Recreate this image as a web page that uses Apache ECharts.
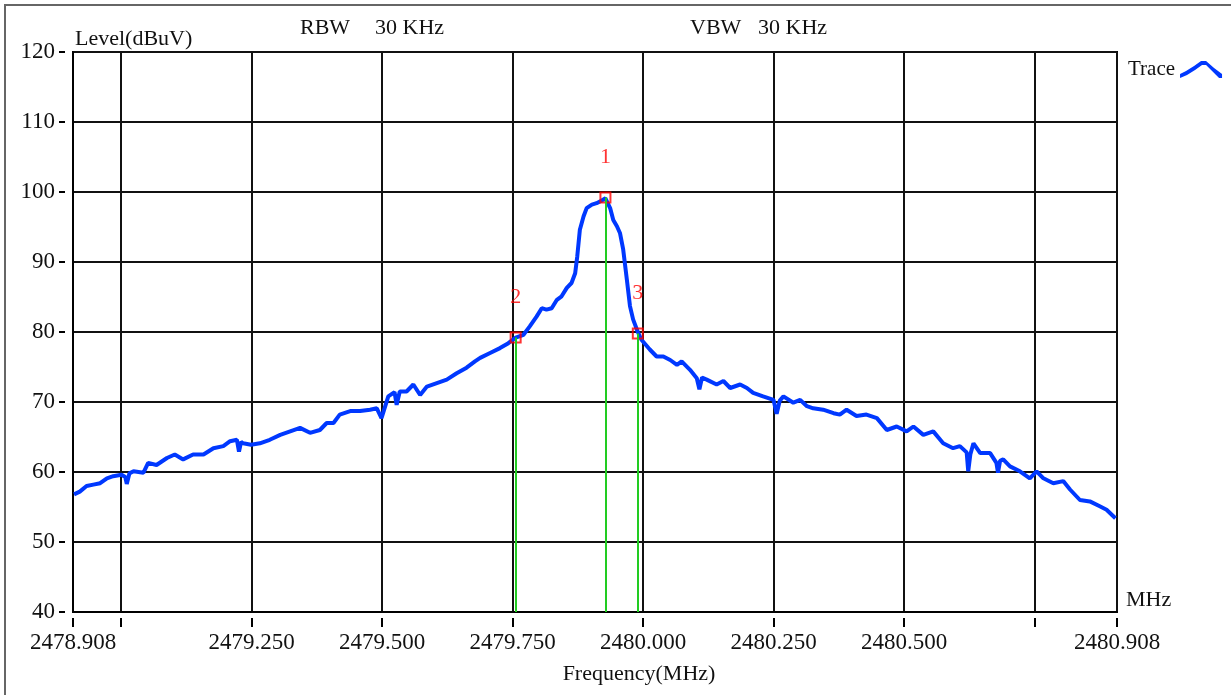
<!DOCTYPE html>
<html lang="en">
<head>
    <meta charset="UTF-8">
    <title>Trace</title>
    <script src="https://cdn.jsdelivr.net/npm/echarts@6.0.0/dist/echarts.min.js"></script>
    <style>
        html, body { margin: 0; padding: 0; background: #fff; }
        #main { width: 1231px; height: 695px; }
    </style>
</head>
<body>
    <div id="main"></div>
    <script>
        // values
        var traceFreq = [
            2478.910, 2478.921, 2478.934, 2478.947, 2478.960, 2478.973, 2478.985, 2479.001, 2479.008, 2479.011,
            2479.016, 2479.024, 2479.043, 2479.052, 2479.068, 2479.088, 2479.103, 2479.119, 2479.138, 2479.158,
            2479.177, 2479.196, 2479.209, 2479.222, 2479.226, 2479.230, 2479.234, 2479.249, 2479.266, 2479.285,
            2479.305, 2479.324, 2479.343, 2479.362, 2479.381, 2479.394, 2479.407, 2479.419, 2479.439, 2479.458,
            2479.477, 2479.490, 2479.499, 2479.512, 2479.524, 2479.528, 2479.534, 2479.547, 2479.560, 2479.573,
            2479.586, 2479.605, 2479.624, 2479.643, 2479.662, 2479.678,
            2479.688, 2479.707, 2479.726, 2479.742, 2479.756, 2479.771, 2479.783, 2479.796, 2479.806, 2479.815,
            2479.825, 2479.835, 2479.844, 2479.854, 2479.863, 2479.870, 2479.874, 2479.879, 2479.886, 2479.892,
            2479.902, 2479.911, 2479.921, 2479.928, 2479.937, 2479.943, 2479.950, 2479.956, 2479.962, 2479.969,
            2479.975, 2479.981, 2479.990,
            2479.997, 2480.013, 2480.026, 2480.039, 2480.052, 2480.065, 2480.074, 2480.090, 2480.103, 2480.108,
            2480.113, 2480.122, 2480.141, 2480.154, 2480.167, 2480.186, 2480.199, 2480.211, 2480.230, 2480.250,
            2480.256, 2480.262, 2480.269, 2480.288, 2480.301, 2480.314, 2480.326, 2480.345, 2480.365, 2480.377,
            2480.390, 2480.409, 2480.428, 2480.448, 2480.467, 2480.486, 2480.505, 2480.518, 2480.537, 2480.556,
            2480.575, 2480.594, 2480.607, 2480.620, 2480.623, 2480.627, 2480.633, 2480.646, 2480.665, 2480.677,
            2480.680, 2480.684, 2480.690, 2480.703, 2480.722, 2480.741, 2480.754, 2480.767, 2480.786, 2480.805,
            2480.818, 2480.837, 2480.856, 2480.875, 2480.888, 2480.905
        ];
        var traceLevel = [
            56.8, 57.2, 58.0, 58.2, 58.4, 59.1, 59.4, 59.6, 59.3, 58.3,
            59.8, 60.1, 59.9, 61.3, 61.0, 62.0, 62.5, 61.8, 62.5, 62.5,
            63.4, 63.7, 64.4, 64.6, 62.9, 64.3, 64.1, 63.9, 64.1, 64.6,
            65.3, 65.8, 66.3, 65.6, 66.0, 67.0, 67.0, 68.2, 68.7, 68.7,
            68.9, 69.1, 67.7, 70.8, 71.4, 69.6, 71.5, 71.5, 72.5, 71.0,
            72.2, 72.7, 73.2, 74.1, 74.9, 75.8,
            76.3, 77.0, 77.7, 78.4, 79.2, 79.6, 80.8, 82.2, 83.4, 83.2,
            83.4, 84.6, 85.1, 86.3, 87.0, 88.4, 90.8, 94.6, 96.5, 97.7,
            98.2, 98.4, 98.8, 99.1, 97.7, 96.0, 95.1, 94.1, 91.8, 87.5,
            83.7, 81.8, 80.0,
            78.9, 77.5, 76.5, 76.5, 76.0, 75.3, 75.8, 74.6, 73.4, 71.8,
            73.5, 73.2, 72.5, 73.0, 72.0, 72.5, 72.0, 71.3, 70.8, 70.3,
            68.3, 70.2, 70.8, 69.9, 70.3, 69.4, 69.1, 68.9, 68.4, 68.2,
            68.9, 68.0, 68.2, 67.7, 66.0, 66.5, 65.8, 66.5, 65.3, 65.8,
            64.1, 63.4, 63.7, 62.8, 60.1, 62.5, 64.1, 62.7, 62.7, 61.3,
            59.9, 61.6, 61.8, 60.8, 60.1, 59.1, 60.1, 59.1, 58.4, 58.7,
            57.5, 56.0, 55.8, 55.1, 54.6, 53.4
        ];

        var markerNames = ['1', '2', '3'];
        var markerFreq = [2479.928, 2479.756, 2479.990];
        var markerLevel = [99.2, 79.2, 79.8];

        var xTicks = [2478.908, 2479.0, 2479.25, 2479.5, 2479.75, 2480.0, 2480.25, 2480.5, 2480.75, 2480.908];
        var xLabels = [2478.908, 2479.25, 2479.5, 2479.75, 2480.0, 2480.25, 2480.5, 2480.908];
        var yMin = 40, yMax = 120, yStep = 10;
        var xMin = 2478.908, xMax = 2480.908;

        var FONT = '"Liberation Serif", "Times New Roman", serif';
        var INK = '#111';

        var traceData = traceFreq.map(function (f, i) { return [f, traceLevel[i]]; });
        var markerData = markerFreq.map(function (f, i) { return [f, markerLevel[i], markerNames[i]]; });

        var chart = echarts.init(document.getElementById('main'));

        function txt(x, y, s, align) {
            return {
                type: 'text', x: x, y: y, silent: true,
                style: { text: s, font: '22px ' + FONT, fill: INK, align: align || 'left', verticalAlign: 'middle' }
            };
        }

        chart.setOption({
            animation: false,
            backgroundColor: '#fff',
            grid: {
                left: 73, right: 114, top: 52, bottom: 83,
                containLabel: false,
                show: true,
                borderColor: '#000',
                borderWidth: 2
            },
            legend: {
                data: [{
                    name: 'Trace',
                    icon: 'path://M0,15 L6,12 L14,7 L21,2 L26,2 L34,9 L42,15 L42,19 L39,19 L33,13 L26,6 L22,6 L15,11 L7,16 L0,19 Z'
                }],
                left: 1123,
                top: 54,
                align: 'right',
                itemWidth: 42,
                itemHeight: 18,
                itemGap: 6,
                selectedMode: false,
                textStyle: { fontFamily: FONT, fontSize: 21, color: INK, padding: [0, 0, 0, 0] }
            },
            xAxis: [{
                type: 'value',
                min: xMin,
                max: xMax,
                position: 'bottom',
                axisLine: { show: true, lineStyle: { color: '#000', width: 2 } },
                axisTick: { show: false, customValues: xTicks },
                axisLabel: { show: false },
                splitLine: { show: true, lineStyle: { color: '#111', width: 2 } }
            }, {
                type: 'value',
                min: xMin,
                max: xMax,
                position: 'bottom',
                offset: 6,
                axisLine: { show: false },
                axisTick: { show: true, length: 9, customValues: xTicks, lineStyle: { color: '#000', width: 2 } },
                axisLabel: {
                    show: true,
                    customValues: xLabels,
                    margin: 13,
                    fontFamily: FONT,
                    fontSize: 23,
                    color: INK,
                    formatter: function (v) { return v.toFixed(3); }
                },
                splitLine: { show: false }
            }],
            yAxis: [{
                type: 'value',
                min: yMin,
                max: yMax,
                interval: yStep,
                position: 'left',
                name: 'Level(dBuV)',
                nameLocation: 'end',
                nameGap: 2,
                nameTextStyle: { fontFamily: FONT, fontSize: 22, color: INK, align: 'left', verticalAlign: 'bottom', padding: [0, 0, 0, 2] },
                axisLine: { show: true, lineStyle: { color: '#000', width: 2 } },
                axisTick: { show: false },
                axisLabel: { show: false },
                splitLine: { show: true, lineStyle: { color: '#111', width: 2 } }
            }, {
                type: 'value',
                min: yMin,
                max: yMax,
                interval: yStep,
                position: 'left',
                offset: 8,
                axisLine: { show: false },
                axisTick: { show: true, length: 6, lineStyle: { color: '#000', width: 2 } },
                axisLabel: { show: true, margin: 10, fontFamily: FONT, fontSize: 23, color: INK },
                splitLine: { show: false }
            }],
            graphic: [
                {
                    type: 'rect', silent: true,
                    shape: { x: 5, y: 5, width: 1300, height: 800 },
                    style: { fill: 'none', stroke: '#666', lineWidth: 2 }
                },
                txt(300, 28, 'RBW'),
                txt(375, 28, '30 KHz'),
                txt(690, 28, 'VBW'),
                txt(758, 28, '30 KHz'),
                txt(639, 674, 'Frequency(MHz)', 'center'),
                txt(1126, 600, 'MHz')
            ],
            series: [{
                name: 'Trace',
                type: 'line',
                data: traceData,
                showSymbol: false,
                symbol: 'none',
                color: '#0038ff',
                lineStyle: { color: '#0038ff', width: 4 },
                z: 3,
                markLine: {
                    silent: true,
                    symbol: ['none', 'none'],
                    label: { show: false },
                    lineStyle: { color: '#22cc22', width: 2, type: 'solid' },
                    data: markerFreq.map(function (f, i) {
                        return [{ coord: [f, yMin] }, { coord: [f, markerLevel[i]] }];
                    })
                }
            }, {
                name: 'Markers',
                type: 'scatter',
                data: markerData,
                symbol: 'rect',
                symbolSize: 10,
                z: 4,
                itemStyle: { color: 'rgba(0,0,0,0)', borderColor: '#ff0000', borderWidth: 2 },
                label: {
                    show: true,
                    position: 'top',
                    distance: 23,
                    fontFamily: FONT,
                    fontSize: 22,
                    color: '#ff0000',
                    formatter: function (p) { return p.value[2]; }
                }
            }]
        });
    </script>
</body>
</html>
